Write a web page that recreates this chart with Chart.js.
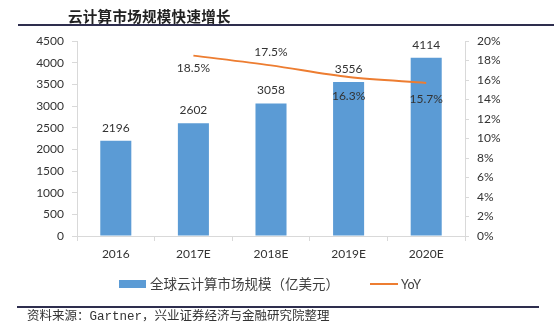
<!DOCTYPE html>
<html>
<head>
<meta charset="utf-8">
<script src="https://cdn.jsdelivr.net/npm/chart.js@4"></script>
<style>
body{margin:0;background:#fff;}
#wrap{position:relative;width:554px;height:326px;overflow:hidden;background:#fff;}
#chart{position:absolute;left:0;top:0;}
.title{position:absolute;left:68px;top:5px;font:bold 14.5px "Noto Sans CJK SC";color:#222;letter-spacing:0.3px;white-space:nowrap;}
.rule{position:absolute;height:2px;background:#2e2e4e;}
.legend{position:absolute;top:274px;font:13.5px "Noto Sans CJK SC";color:#404040;white-space:nowrap;line-height:18px;}
.src{position:absolute;left:27px;top:309px;font:12.5px "Liberation Mono","Noto Sans CJK SC";color:#333;white-space:nowrap;line-height:16px;}
</style>
</head>
<body>
<div id="wrap">
<canvas id="chart" width="554" height="326"></canvas>
<div class="title">云计算市场规模快速增长</div>
<div class="rule" style="left:18px;top:24px;width:536px;"></div>
<div class="legend" style="left:119px;"><span style="display:inline-block;width:27px;height:8px;background:#5b9bd5;vertical-align:middle;margin-right:4px;position:relative;top:-1px;"></span>全球云计算市场规模（亿美元）</div>
<div class="legend" style="left:370px;"><span style="display:inline-block;width:28px;height:2px;background:#ed7d31;vertical-align:middle;margin-right:3px;position:relative;top:-1px;"></span><span style="font:12.5px Lato;">YoY</span></div>
<div class="rule" style="left:17px;top:306px;width:522px;"></div>
<div class="src">资料来源：Gartner，兴业证券经济与金融研究院整理</div>
</div>
<script>
// data
const years = ["2016","2017E","2018E","2019E","2020E"];
const marketSize = [2196,2602,3058,3556,4114];
const yoy = [null,0.185,0.175,0.163,0.157];
const yoyLabels = [null,"18.5%","17.5%","16.3%","15.7%"];

// label placement (px from point, + is down)
const yoyOffsets = [0,12,-13,19,16];

const tickFont = {family:"Lato",size:12};
const textColor = "#333";

const labelPlugin = {
id:"valueLabels",
afterDatasetsDraw(chart){
const ctx = chart.ctx;
ctx.save();
ctx.font = "12px Lato";
ctx.fillStyle = textColor;
ctx.textAlign = "center";
ctx.textBaseline = "middle";
chart.getDatasetMeta(0).data.forEach((bar,i)=>{
ctx.fillText(String(marketSize[i]), bar.x, bar.y-13);
});
chart.getDatasetMeta(1).data.forEach((pt,i)=>{
if(yoy[i]===null) return;
ctx.fillText(yoyLabels[i], pt.x, pt.y+yoyOffsets[i]);
});
ctx.restore();
}
};

new Chart(document.getElementById("chart"),{
type:"bar",
data:{
labels:years,
datasets:[{
label:"全球云计算市场规模（亿美元）",
data:marketSize,
backgroundColor:"#5b9bd5",
barPercentage:0.4,
categoryPercentage:1,
yAxisID:"y",
order:1
},{
type:"line",
label:"YoY",
data:yoy,
borderColor:"#ed7d31",
borderWidth:2,
pointRadius:0,
tension:0.3,
yAxisID:"y1",
order:0
}]
},
options:{
responsive:false,
animation:false,
devicePixelRatio:1,
layout:{padding:{top:41,left:0,right:0,bottom:0}},
plugins:{legend:{display:false},tooltip:{enabled:false}},
scales:{
x:{
offset:true,
grid:{display:true,drawOnChartArea:false,offset:true,tickLength:5,color:"#d9d9d9"},
border:{color:"#d9d9d9"},
ticks:{font:tickFont,color:textColor,padding:6},
afterFit(s){s.height=90;}
},
y:{
position:"left",
min:0,max:4500,
grid:{drawOnChartArea:false,tickLength:5,color:"#d9d9d9"},
border:{color:"#d9d9d9"},
ticks:{stepSize:500,font:tickFont,color:textColor,padding:8,
callback:v=>String(v)},
afterFit(s){s.width=77;}
},
y1:{
position:"right",
min:0,max:0.2,
grid:{drawOnChartArea:false,tickLength:4,color:"#d9d9d9"},
border:{color:"#d9d9d9"},
ticks:{stepSize:0.02,font:tickFont,color:textColor,padding:8,
callback:v=>Math.round(v*100)+"%"},
afterFit(s){s.width=89;}
}
}
},
plugins:[labelPlugin]
});
</script>
</body>
</html>
